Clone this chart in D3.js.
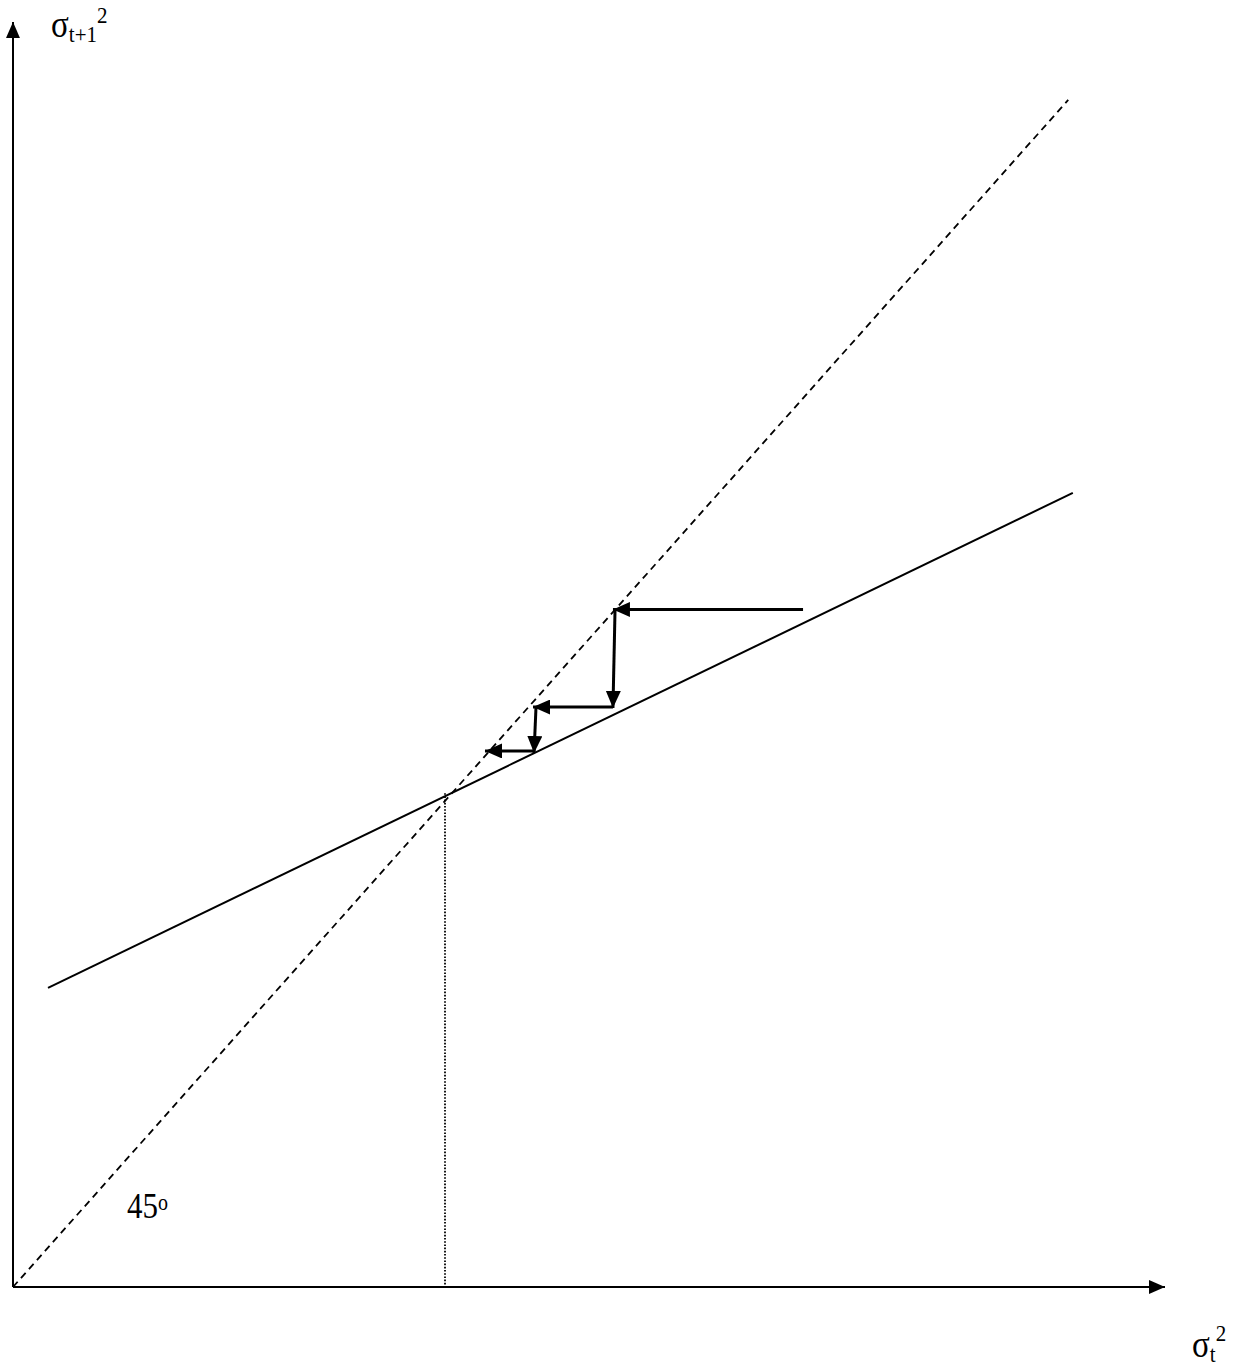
<!DOCTYPE html>
<html><head><meta charset="utf-8">
<script src="https://cdn.jsdelivr.net/npm/d3@7"></script>
<style>body{margin:0;background:#fff}svg{display:block}</style>
</head><body><svg id="c" width="1236" height="1367"></svg>
<script>
// ---- data (abstract units) ----
const axisMax = [100, 97.6];                 // x-axis end, y-axis end
const diagonalX = [0, 91.6];                 // 45° line y = x
const mapX = [3.04, 92.0];                   // GARCH map line x-extent
const mapIntercept = 21.77;
const mapSlope = 0.4294;
const steadyState = [37.5, 38.1];            // dotted drop line (x, top y)
const cobwebX1 = [68.58, 52.26, 52.08, 45.40, 45.23];
const cobwebY1 = [52.28, 52.28, 44.75, 44.75, 41.36];
const cobwebX2 = [52.08, 52.08, 45.14, 45.23, 40.97];
const cobwebY2 = [52.28, 44.68, 44.75, 41.20, 41.36];

const svg = d3.select("#c");
const x = d3.scaleLinear().domain([0, 100]).range([13, 1165]);
const y = d3.scaleLinear().domain([0, 100]).range([1287, -9]);

const defs = svg.append("defs");
function marker(id, len, w) {
  defs.append("marker").attr("id", id)
    .attr("markerUnits", "userSpaceOnUse")
    .attr("viewBox", `0 0 ${len} ${w}`)
    .attr("refX", len).attr("refY", w / 2)
    .attr("markerWidth", len).attr("markerHeight", w)
    .attr("orient", "auto")
    .append("path").attr("d", `M0,0L${len},${w/2}L0,${w}Z`).attr("fill", "#000");
}
marker("axArrow", 16, 14);
marker("cwArrow", 17, 15);

// axes
svg.append("line").attr("x1", x(0)).attr("y1", y(0)).attr("x2", x(axisMax[0])).attr("y2", y(0))
  .attr("stroke", "#000").attr("stroke-width", 2).attr("marker-end", "url(#axArrow)");
svg.append("line").attr("x1", x(0)).attr("y1", y(0)).attr("x2", x(0)).attr("y2", y(axisMax[1]))
  .attr("stroke", "#000").attr("stroke-width", 2).attr("marker-end", "url(#axArrow)");

// 45° dashed line
const line = d3.line().x(d => x(d[0])).y(d => y(d[1]));
svg.append("path").datum(diagonalX.map(v => [v, v])).attr("d", line)
  .attr("fill", "none").attr("stroke", "#000").attr("stroke-width", 1.8)
  .attr("stroke-dasharray", "7,5");

// map line
svg.append("path").datum(mapX.map(v => [v, mapIntercept + mapSlope * v])).attr("d", line)
  .attr("fill", "none").attr("stroke", "#000").attr("stroke-width", 2);

// dotted drop line
svg.append("line").attr("x1", x(steadyState[0])).attr("x2", x(steadyState[0]))
  .attr("y1", y(steadyState[1])).attr("y2", y(0))
  .attr("stroke", "#000").attr("stroke-width", 1.8).attr("stroke-dasharray", "1.6,1.6");

// cobweb arrows
svg.selectAll("line.cw").data(d3.range(cobwebX1.length)).join("line").attr("class", "cw")
  .attr("x1", i => x(cobwebX1[i])).attr("y1", i => y(cobwebY1[i]))
  .attr("x2", i => x(cobwebX2[i])).attr("y2", i => y(cobwebY2[i]))
  .attr("stroke", "#000").attr("stroke-width", 3).attr("marker-end", "url(#cwArrow)");

// labels (Times-like, vertically stretched like the source)
const font = "'Liberation Serif', 'DejaVu Serif', serif";
function label(tx, ty, parts) {
  const t = svg.append("text").attr("transform", `translate(${tx},${ty}) scale(1,1.125)`)
    .style("font-family", font).attr("fill", "#000");
  parts.forEach(p => {
    const s = t.append("tspan").text(p.t).style("font-size", p.s + "px");
    if (p.dy) s.attr("dy", p.dy);
    if (p.dx) s.attr("dx", p.dx);
  });
}
label(51, 37, [{t: "σ", s: 33}, {t: "t+1", s: 21, dy: 4.4}, {t: "2", s: 21, dy: -16.9}]);
label(1192, 1357, [{t: "σ", s: 33}, {t: "t", s: 21, dy: 4.4}, {t: "2", s: 21, dy: -18.6}]);
label(127, 1218, [{t: "45", s: 31}, {t: "o", s: 20, dy: -7}]);
</script></body></html>
